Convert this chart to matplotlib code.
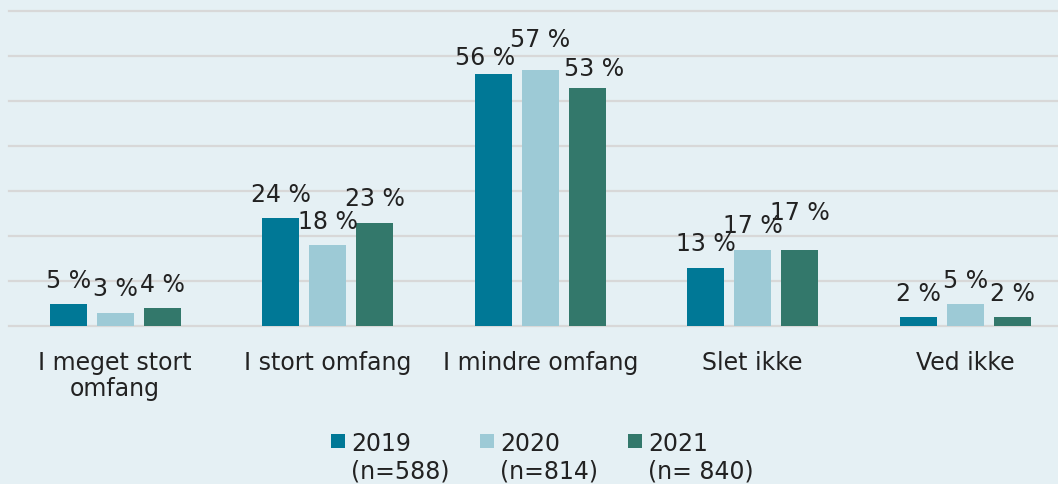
import matplotlib
matplotlib.use("Agg")
import matplotlib.pyplot as plt
from matplotlib.patches import Rectangle
import numpy as np

categories = ["I meget stort\nomfang", "I stort omfang", "I mindre omfang", "Slet ikke", "Ved ikke"]
years = ["2019", "2020", "2021"]
sample_sizes = ["(n=588)", "(n=814)", "(n= 840)"]
values_2019 = [5, 24, 56, 13, 2]
values_2020 = [3, 18, 57, 17, 5]
values_2021 = [4, 23, 53, 17, 2]
colors = ["#007896", "#9dcad6", "#33786b"]

# per-label nudges (dx, dy in pixels) where labels were moved to avoid overlap
label_nudges = {(0, 2): (-8, -7), (1, 2): (0, 6), (2, 2): (7, -5), (2, 3): (0, 13)}

W, H = 1058, 485
fig = plt.figure(figsize=(W / 100, H / 100), dpi=100)
bg = "#e5f0f4"
fig.patch.set_facecolor(bg)

left_px, right_px = 9, 1058
base_px, top_px = 327, 12
ax = fig.add_axes([left_px / W, (H - base_px) / H, (right_px - left_px) / W, (base_px - top_px) / H])
ax.set_facecolor(bg)

spacing = 212.5
bar_w = 37 / spacing
step = 47 / spacing
ax.set_xlim(-0.5, -0.5 + (right_px - left_px) / spacing)
ax.set_ylim(0, 70)

x = np.arange(len(categories))
series = [values_2019, values_2020, values_2021]
text_font = "DejaVu Sans"
for si, vals in enumerate(series):
    xs = x + (si - 1) * step
    ax.bar(xs, vals, width=bar_w, color=colors[si], zorder=3)
    for ci, (xx, v) in enumerate(zip(xs, vals)):
        dx, dy = label_nudges.get((si, ci), (0, 0))
        ax.annotate(f"{v} %", (xx, v), xytext=(dx, 17 + dy), textcoords="offset pixels",
                    ha="center", va="baseline", fontsize=17, color="#222222",
                    family=text_font, zorder=4)

ax.set_yticks(np.arange(0, 71, 10))
ax.yaxis.grid(True, color="#d8d8d8", linewidth=1.6, zorder=0)
for gl in ax.get_ygridlines():
    gl.set_clip_on(False)
ax.set_axisbelow(True)
ax.tick_params(axis="y", left=False, labelleft=False)
ax.set_xticks(x)
ax.set_xticklabels(categories, fontsize=17, color="#222222", family=text_font, linespacing=1.15)
ax.tick_params(axis="x", length=0, pad=17)
for s in ax.spines.values():
    s.set_visible(False)

# legend
leg_x = [331, 480, 628]
for i in range(3):
    fig.patches.append(Rectangle((leg_x[i] / W, (H - 449) / H), 14 / W, 14 / H,
                                 transform=fig.transFigure, facecolor=colors[i], edgecolor="none"))
    fig.text((leg_x[i] + 20) / W, (H - 451) / H, years[i], fontsize=17, color="#222222",
             family=text_font, va="baseline", ha="left")
    fig.text((leg_x[i] + 20) / W, (H - 479) / H, sample_sizes[i], fontsize=17, color="#222222",
             family=text_font, va="baseline", ha="left")

fig.savefig("out.png", dpi=100, facecolor=bg)
